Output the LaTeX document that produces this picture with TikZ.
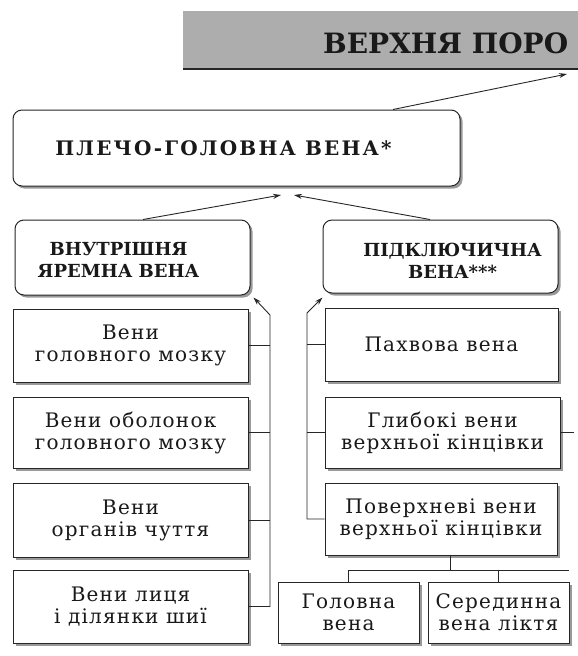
\documentclass[tikz,border=0pt]{standalone}
\usepackage{fontspec}
\setmainfont{DejaVu Serif}
\newfontfamily\spacedfont[LetterSpace=6]{DejaVu Serif}
\newfontfamily\wideboldfont[LetterSpace=11]{DejaVu Serif}
\usetikzlibrary{shadows,arrows.meta,calc}
\begin{document}
\begin{tikzpicture}[x=1pt,y=-1pt,
  box/.style={draw=black!85, line width=1pt, fill=white, inner sep=0pt, align=center,
    font=\spacedfont\fontsize{20}{22}\selectfont, text=black!90,
    drop shadow={shadow xshift=2.5pt, shadow yshift=-2.5pt, fill=black!40, opacity=1}},
  hbox/.style={box, rounded corners=9pt},
  htext/.style={align=center, inner sep=0pt, text=black!90, font=\fontsize{18}{22}\bfseries\selectfont},
  ln/.style={line width=0.9pt, draw=black!85},
  arr/.style={ln, -{Stealth[length=8pt,width=5pt]}}
]
\useasboundingbox (0,0) rectangle (578,656);

% banner
\node[fill=black!32, minimum width=420pt, minimum height=57pt, inner sep=0pt, anchor=north west,
  drop shadow={shadow xshift=0pt, shadow yshift=-2pt, fill=black!85, opacity=1}] (banner) at (183,11) {};
\node[anchor=base west, inner sep=0pt, font=\fontsize{28}{28}\bfseries\selectfont, text=black!90] (title) at (323,53) {ВЕРХНЯ ПОРО};
\coordinate (tin) at (567,74);

% top box
\node[hbox, minimum width=447pt, minimum height=76pt] (plecho) at (236.5,148) {};
\node[htext, font=\wideboldfont\fontsize{20}{22}\bfseries\selectfont] (plechoT) at ([xshift=-13pt]plecho.center) {ПЛЕЧО-ГОЛОВНА ВЕНА*};

% second level
\node[hbox, minimum width=235pt, minimum height=75pt] (vnutr) at (132.5,257.5) {};
\node[htext] (vnutrT) at ([xshift=-14pt,yshift=-2pt]vnutr.center) {ВНУТРІШНЯ\\ЯРЕМНА ВЕНА};
\node[hbox, minimum width=235pt, minimum height=73pt] (pidkl) at (440.5,256.5) {};
\node[htext] (pidklT) at ([xshift=12pt,yshift=-4pt]pidkl.center) {ПІДКЛЮЧИЧНА\\ВЕНА***};

% left column
\node[box, minimum width=235pt, minimum height=73pt] (l1) at (130.5,345.5) {Вени\\головного мозку};
\node[box, minimum width=235pt, minimum height=71pt] (l2) at (130.5,432.5) {Вени оболонок\\головного мозку};
\node[box, minimum width=235pt, minimum height=74pt] (l3) at (130.5,520) {Вени\\органів чуття};
\node[box, minimum width=235pt, minimum height=73pt] (l4) at (130.5,606.5) {Вени лиця\\і ділянки шиї};

% right column
\node[box, minimum width=233pt, minimum height=73pt] (r1) at (441.5,344.5) {Пахвова вена};
\node[box, minimum width=235pt, minimum height=71pt] (r2) at (442.5,432.5) {Глибокі вени\\верхньої кінцівки};
\node[box, minimum width=232pt, minimum height=72pt] (r3) at (441,519) {Поверхневі вени\\верхньої кінцівки};
\node[box, minimum width=141pt, minimum height=61pt] (g1) at (348.5,612.5) {Головна\\вена};
\node[box, minimum width=141pt, minimum height=61pt] (g2) at (498.5,612.5) {Серединна\\вена ліктя};

% arrows to top
\draw[arr] ([xshift=156.5pt]plecho.north) -- (tin);
\coordinate (a1) at (281,195);
\coordinate (a2) at (294,195);
\draw[arr] ([xshift=10.5pt]vnutr.north) -- (a1);
\draw[arr] ([xshift=-10.5pt]pidkl.north) -- (a2);

% left bus
\coordinate (lbus) at (270,315);
\draw[arr] (l4.east) -- (l4.east -| lbus) -- (lbus) -- ([xshift=3pt,yshift=-2pt]vnutr.south east);
\draw[ln] (l1.east) -- (l1.east -| lbus);
\draw[ln] (l2.east) -- (l2.east -| lbus);
\draw[ln] (l3.east) -- (l3.east -| lbus);

% right bus
\coordinate (rbus) at (307,313);
\draw[arr] (r3.west) -- (r3.west -| rbus) -- (rbus) -- ([yshift=-4pt]pidkl.south west);
\draw[ln] (r1.west) -- (r1.west -| rbus);
\draw[ln] (r2.west) -- (r2.west -| rbus);
\coordinate (stub) at (574,432.5);
\draw[ln] (r2.east) -- (stub);

% bottom bus
\coordinate (hb) at (450,570);
\coordinate (hbr) at (569,570);
\draw[ln] (r3.south -| hb) -- (hb);
\draw[ln] (g1.north) -- (g1.north |- hb) -- (hbr);
\draw[ln] (g2.north) -- (g2.north |- hb);
\end{tikzpicture}
\end{document}
